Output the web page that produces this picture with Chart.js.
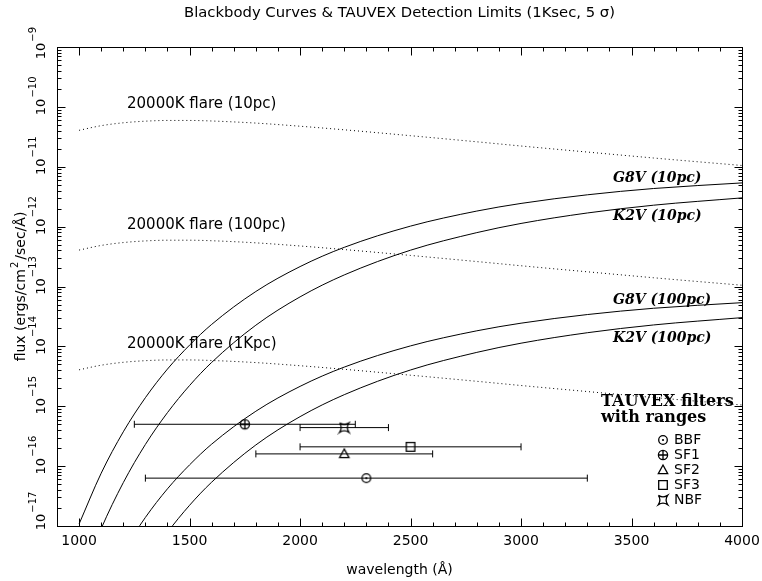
<!DOCTYPE html>
<html>
<head>
<meta charset="utf-8">
<script src="https://cdn.jsdelivr.net/npm/chart.js@4.4.0/dist/chart.umd.min.js"></script>
<style>
  html, body { margin: 0; padding: 0; background: #fff; }
  canvas { display: block; }
</style>
</head>
<body>
<canvas id="bbChart" width="762" height="581"></canvas>
<script>
const wavelengths = [1000, 1100, 1200, 1300, 1400, 1500, 1600, 1800, 2000, 2200, 2500, 2800, 3000, 3300, 3600, 4000];

// 20000K flare at three distances (dotted)
const flare10pc  = [4.06e-11, 4.85e-11, 5.42e-11, 5.77e-11, 5.93e-11, 5.93e-11, 5.81e-11, 5.36e-11, 4.75e-11, 4.14e-11, 3.30e-11, 2.61e-11, 2.22e-11, 1.76e-11, 1.40e-11, 1.05e-11];
const flare100pc = [4.06e-13, 4.85e-13, 5.42e-13, 5.77e-13, 5.93e-13, 5.93e-13, 5.81e-13, 5.36e-13, 4.75e-13, 4.14e-13, 3.30e-13, 2.61e-13, 2.22e-13, 1.76e-13, 1.40e-13, 1.05e-13];
const flare1kpc  = [4.06e-15, 4.85e-15, 5.42e-15, 5.77e-15, 5.93e-15, 5.93e-15, 5.81e-15, 5.36e-15, 4.75e-15, 4.14e-15, 3.30e-15, 2.61e-15, 2.22e-15, 1.76e-15, 1.40e-15, 1.05e-15];

// stars (solid)
const g8v10pc  = [1.08e-17, 7.62e-17, 3.74e-16, 1.39e-15, 4.18e-15, 1.05e-14, 2.33e-14, 8.26e-14, 2.15e-13, 4.51e-13, 1.02e-12, 1.82e-12, 2.44e-12, 3.40e-12, 4.33e-12, 5.37e-12];
const k2v10pc  = [1.04e-18, 9.04e-18, 5.30e-17, 2.30e-16, 7.83e-16, 2.22e-15, 5.40e-15, 2.26e-14, 6.71e-14, 1.56e-13, 4.04e-13, 7.94e-13, 1.13e-12, 1.69e-12, 2.28e-12, 3.02e-12];
const g8v100pc = [1.08e-19, 7.62e-19, 3.74e-18, 1.39e-17, 4.18e-17, 1.05e-16, 2.33e-16, 8.26e-16, 2.15e-15, 4.51e-15, 1.02e-14, 1.82e-14, 2.44e-14, 3.40e-14, 4.33e-14, 5.37e-14];
const k2v100pc = [1.04e-20, 9.04e-20, 5.30e-19, 2.30e-18, 7.83e-18, 2.22e-17, 5.40e-17, 2.26e-16, 6.71e-16, 1.56e-15, 4.04e-15, 7.94e-15, 1.13e-14, 1.69e-14, 2.28e-14, 3.02e-14];

// TAUVEX filters: centre, range and detection limit
const filterNames  = ['BBF', 'SF1', 'SF2', 'SF3', 'NBF'];
const filterCenter = [2300, 1750, 2200, 2500, 2200];
const filterLow    = [1300, 1250, 1800, 2000, 2000];
const filterHigh   = [3300, 2250, 2600, 3000, 2400];
const filterLimit  = [6.3e-17, 5.0e-16, 1.6e-16, 2.1e-16, 4.4e-16];

// axis ticks
const xTickLabels = [1000, 1500, 2000, 2500, 3000, 3500, 4000];
const yDecades = [-17, -16, -15, -14, -13, -12, -11, -10, -9];

const SANS = '"DejaVu Sans", sans-serif';
const SERIF = '"DejaVu Serif", serif';

function makeSymbol(kind) {
  const c = document.createElement('canvas');
  c.width = 14; c.height = 14;
  const g = c.getContext('2d');
  const m = 7;
  g.strokeStyle = '#000'; g.fillStyle = '#000'; g.lineWidth = 1.3;
  g.beginPath();
  if (kind === 'BBF') {
    g.arc(m, m, 4.3, 0, Math.PI * 2); g.stroke();
    g.beginPath(); g.arc(m, m, 1.1, 0, Math.PI * 2); g.fill();
  } else if (kind === 'SF1') {
    g.arc(m, m, 4.6, 0, Math.PI * 2);
    g.moveTo(m - 4.6, m); g.lineTo(m + 4.6, m);
    g.moveTo(m, m - 4.6); g.lineTo(m, m + 4.6);
    g.stroke();
  } else if (kind === 'SF2') {
    g.moveTo(m, m - 5); g.lineTo(m + 4.7, m + 3.7); g.lineTo(m - 4.7, m + 3.7);
    g.closePath(); g.stroke();
  } else if (kind === 'SF3') {
    g.rect(m - 4.3, m - 4.3, 8.6, 8.6); g.stroke();
  } else {
    const r = 4.6;
    g.moveTo(m - r, m - r);
    g.quadraticCurveTo(m, m - r + 3, m + r, m - r);
    g.quadraticCurveTo(m + r - 3, m, m + r, m + r);
    g.quadraticCurveTo(m, m + r - 3, m - r, m + r);
    g.quadraticCurveTo(m - r + 3, m, m - r, m - r);
    g.stroke();
  }
  return c;
}

const symbols = {};
filterNames.forEach(n => { symbols[n] = makeSymbol(n); });

const pts = arr => wavelengths.map((w, i) => ({ x: w, y: arr[i] }));

function curve(label, arr, dotted) {
  return {
    label: label,
    data: pts(arr),
    showLine: true,
    borderColor: '#000',
    borderWidth: 1,
    borderDash: dotted ? [1, 3] : [],
    pointRadius: 0,
    cubicInterpolationMode: 'monotone'
  };
}

const datasets = [];
filterNames.forEach((n, i) => {
  datasets.push({
    label: n,
    data: [{ x: filterCenter[i], y: filterLimit[i] }],
    pointStyle: symbols[n],
    pointRadius: 6,
    showLine: false
  });
});
filterNames.forEach((n, i) => {
  datasets.push({
    label: n + ' range',
    data: [{ x: filterLow[i], y: filterLimit[i] }, { x: filterHigh[i], y: filterLimit[i] }],
    showLine: true,
    borderColor: '#000',
    borderWidth: 1,
    pointStyle: 'line',
    rotation: 90,
    pointRadius: 3.5,
    pointBorderColor: '#000',
    pointBorderWidth: 1
  });
});
datasets.push(curve('20000K flare (10pc)', flare10pc, true));
datasets.push(curve('20000K flare (100pc)', flare100pc, true));
datasets.push(curve('20000K flare (1Kpc)', flare1kpc, true));
datasets.push(curve('G8V (10pc)', g8v10pc, false));
datasets.push(curve('K2V (10pc)', k2v10pc, false));
datasets.push(curve('G8V (100pc)', g8v100pc, false));
datasets.push(curve('K2V (100pc)', k2v100pc, false));

const decorations = {
  id: 'decorations',
  afterDraw(chart) {
    const ctx = chart.ctx;
    const a = chart.chartArea;
    const xs = chart.scales.x, ys = chart.scales.y;
    const L = Math.round(a.left) + 0.5, R = Math.round(a.right) + 0.5;
    const T = Math.round(a.top) + 0.5, B = Math.round(a.bottom) + 0.5;
    ctx.save();
    ctx.strokeStyle = '#000';
    ctx.fillStyle = '#000';
    ctx.lineWidth = 1;
    ctx.strokeRect(L, T, R - L, B - T);

    // inward ticks
    ctx.beginPath();
    for (let v = 1000; v < 4000; v += 100) {
      const p = Math.round(xs.getPixelForValue(v)) + 0.5;
      const len = v % 500 === 0 ? 8 : 4;
      ctx.moveTo(p, B); ctx.lineTo(p, B - len);
      ctx.moveTo(p, T); ctx.lineTo(p, T + len);
    }
    yDecades.forEach(e => {
      for (let k = 1; k <= 9; k++) {
        if (e === -9 && k > 1) break;
        const p = Math.round(ys.getPixelForValue(k * Math.pow(10, e))) + 0.5;
        const len = k === 1 ? 8 : 4;
        ctx.moveTo(L, p); ctx.lineTo(L + len, p);
        ctx.moveTo(R, p); ctx.lineTo(R - len, p);
      }
    });
    ctx.stroke();

    // x tick labels
    ctx.font = '14px ' + SANS;
    ctx.textAlign = 'center';
    ctx.textBaseline = 'middle';
    xTickLabels.forEach(v => {
      ctx.fillText(String(v), xs.getPixelForValue(v), 541);
    });

    // y tick labels (rotated, 10 with superscript exponent)
    yDecades.forEach(e => {
      let p = ys.getPixelForValue(Math.pow(10, e));
      if (e === -9) p += 4;
      if (e === -17) p -= 4;
      ctx.save();
      ctx.translate(45, p);
      ctx.rotate(-Math.PI / 2);
      ctx.font = '13px ' + SANS;
      ctx.textAlign = 'center';
      ctx.textBaseline = 'alphabetic';
      const w = ctx.measureText('10').width;
      ctx.fillText('10', 0, 0);
      ctx.font = '10px ' + SANS;
      ctx.textAlign = 'left';
      ctx.fillText('\u2212' + Math.abs(e), w / 2 + 1, -9);
      ctx.restore();
    });

    // axis titles
    ctx.save();
    ctx.translate(25, (a.top + a.bottom) / 2);
    ctx.rotate(-Math.PI / 2);
    ctx.font = '14px ' + SANS;
    const t1 = 'flux (ergs/cm', t2 = '2', t3 = '/sec/\u00C5)';
    const w1 = ctx.measureText(t1).width;
    const w3 = ctx.measureText(t3).width;
    ctx.font = '10px ' + SANS;
    const w2 = ctx.measureText(t2).width + 3;
    let x0 = -(w1 + w2 + w3) / 2;
    ctx.textAlign = 'left';
    ctx.textBaseline = 'alphabetic';
    ctx.font = '14px ' + SANS;
    ctx.fillText(t1, x0, 0);
    ctx.font = '10px ' + SANS;
    ctx.fillText(t2, x0 + w1 + 1, -7);
    ctx.font = '14px ' + SANS;
    ctx.fillText(t3, x0 + w1 + w2, 0);
    ctx.restore();

    ctx.font = '14px ' + SANS;
    ctx.textAlign = 'center';
    ctx.textBaseline = 'middle';
    ctx.fillText('wavelength (\u00C5)', (a.left + a.right) / 2, 570);
    ctx.font = '14.8px ' + SANS;
    ctx.fillText('Blackbody Curves & TAUVEX Detection Limits (1Ksec, 5 \u03C3)', (a.left + a.right) / 2, 13);

    // curve labels
    ctx.textAlign = 'left';
    ctx.font = '15px ' + SANS;
    ctx.fillText('20000K flare (10pc)', 127, 104);
    ctx.fillText('20000K flare (100pc)', 127, 225);
    ctx.fillText('20000K flare (1Kpc)', 127, 344);
    ctx.font = 'italic 600 14px ' + SERIF;
    ctx.fillText('G8V (10pc)', 613, 178);
    ctx.fillText('K2V (10pc)', 613, 216);
    ctx.fillText('G8V (100pc)', 613, 300);
    ctx.fillText('K2V (100pc)', 613, 338);

    // filter legend
    ctx.font = 'bold 16px ' + SERIF;
    ctx.fillText('TAUVEX filters', 601, 402);
    ctx.fillText('with ranges', 601, 418);
    ctx.font = '14px ' + SANS;
    const legendY = [440, 455, 470, 485, 500];
    filterNames.forEach((n, i) => {
      const s = symbols[n];
      ctx.drawImage(s, 663 - s.width / 2, legendY[i] - s.height / 2);
      ctx.fillText(n, 674, legendY[i]);
    });
    ctx.restore();
  }
};

new Chart(document.getElementById('bbChart'), {
  type: 'scatter',
  data: { datasets: datasets },
  options: {
    responsive: false,
    animation: false,
    layout: { padding: { left: 57, right: 20, top: 47, bottom: 55 } },
    plugins: { legend: { display: false }, tooltip: { enabled: false } },
    scales: {
      x: { type: 'linear', min: 900, max: 4000, display: false },
      y: { type: 'logarithmic', min: 1e-17, max: 1e-9, display: false }
    }
  },
  plugins: [decorations]
});
</script>
</body>
</html>
